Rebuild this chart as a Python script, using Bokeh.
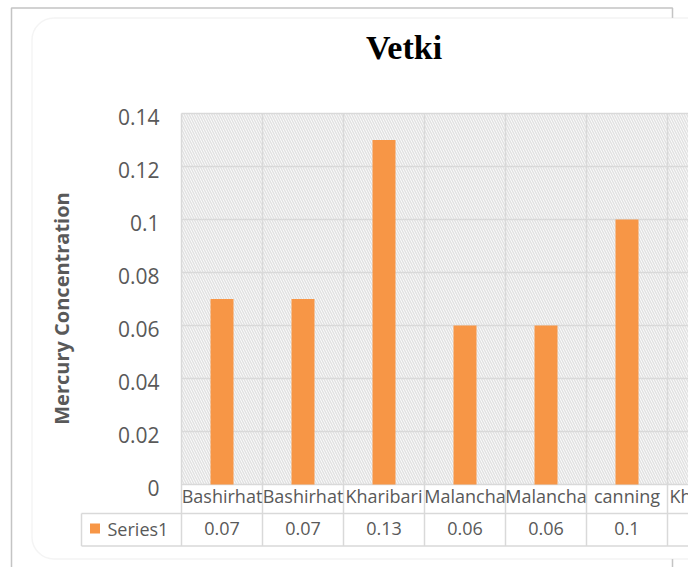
import math
from bokeh.plotting import figure
from bokeh.models import Range1d, BoxAnnotation, Label, ColumnDataSource
from bokeh.core.properties import value
from bokeh.embed import file_html
from bokeh.resources import INLINE

# ---------------- data ----------------
title_text = "Vetki"
y_axis_title = "Mercury Concentration"
series_name = "Series1"
categories = ["Bashirhat", "Bashirhat", "Kharibari", "Malancha", "Malancha", "canning", "Kharibari"]
values = [0.07, 0.07, 0.13, 0.06, 0.06, 0.1]
value_labels = ["0.07", "0.07", "0.13", "0.06", "0.06", "0.1"]
y_ticks = [0, 0.02, 0.04, 0.06, 0.08, 0.1, 0.12, 0.14]
y_tick_labels = ["0", "0.02", "0.04", "0.06", "0.08", "0.1", "0.12", "0.14"]

# ---------------- layout (pixel geometry of the chart picture) ----------------
W, H = 688, 567
PLOT_LEFT, PLOT_BOTTOM, PLOT_TOP = 181, 484, 113   # plot-area edges in px
CAT_PX = 81                                         # px per category
Y_MAX = y_ticks[-1]

BAR = "#F79646"
GRID = "#d9d9d9"
TXT = "#595959"
FONT = "Open Sans"


def X(px):
    """pixel column -> data x (category units)"""
    return (px - PLOT_LEFT) / CAT_PX


def Y(py):
    """pixel row -> data y"""
    return (PLOT_BOTTOM - py) * Y_MAX / (PLOT_BOTTOM - PLOT_TOP)


p = figure(width=W, height=H, x_range=Range1d(X(0), X(W)), y_range=Range1d(Y(H), Y(0)),
           output_backend="svg", toolbar_location=None,
           x_axis_location=None, y_axis_location=None,
           min_border=0, min_border_left=0, min_border_right=0,
           min_border_top=0, min_border_bottom=0)
p.outline_line_color = None
p.border_fill_color = "white"
p.background_fill_color = "white"
p.xgrid.visible = False
p.ygrid.visible = False

# outer black frame and rounded chart area
p.add_layout(BoxAnnotation(left=X(11), right=X(672), top=Y(7.5), bottom=Y(900),
                           fill_alpha=0, line_color="#3a3a3a", line_width=1.5, level="image"))
p.add_layout(BoxAnnotation(left=X(31.5), right=X(1000), top=Y(17.5), bottom=Y(558.5),
                           fill_color="white", fill_alpha=1, line_color=GRID, line_width=1.5,
                           border_radius=22, level="image"))
# hatched plot area
p.add_layout(BoxAnnotation(left=0, right=X(1000), bottom=0, top=Y_MAX,
                           fill_alpha=0, line_alpha=0, hatch_pattern="\\",
                           hatch_color="#e2e2e2", hatch_scale=5, hatch_weight=1.6,
                           level="underlay"))

n_cat = len(categories)
centers = [i + 0.5 for i in range(n_cat)]
right_end = X(1000)

# horizontal grid lines of the plot area
p.segment(x0=[0] * len(y_ticks), x1=[right_end] * len(y_ticks), y0=y_ticks, y1=y_ticks,
          line_color=GRID, line_width=1.5)
# vertical category separators (through the plot area and the data table)
bounds = list(range(n_cat + 1))
p.segment(x0=bounds, x1=bounds, y0=[Y(545.5)] * len(bounds), y1=[Y_MAX] * len(bounds),
          line_color=GRID, line_width=1.5)
# data table rules
p.segment(x0=[X(81), X(81)], x1=[right_end, right_end], y0=[Y(513), Y(545.5)],
          y1=[Y(513), Y(545.5)], line_color=GRID, line_width=1.5)
p.segment(x0=[X(81)], x1=[X(81)], y0=[Y(513)], y1=[Y(545.5)], line_color=GRID, line_width=1.5)

# bars
src = ColumnDataSource(dict(x=centers[:len(values)], top=values))
p.vbar(x="x", top="top", bottom=0, width=23 / CAT_PX, source=src, fill_color=BAR, line_color=None)

# y tick labels
tick_src = ColumnDataSource(dict(x=[X(159)] * len(y_ticks), y=y_ticks, text=y_tick_labels))
p.text(x="x", y="y", text="text", source=tick_src, text_align="right", text_baseline="middle",
       y_offset=3, text_font=value(FONT), text_font_size=value("21px"), text_color=TXT)

# data table texts
cat_src = ColumnDataSource(dict(x=centers, y=[Y(495.5)] * n_cat, text=categories))
p.text(x="x", y="y", text="text", source=cat_src, text_align="center",
       text_baseline="middle", text_font=value(FONT), text_font_size=value("18px"),
       text_color=TXT)
val_src = ColumnDataSource(dict(x=centers[:len(values)], y=[Y(528)] * len(values), text=value_labels))
p.text(x="x", y="y", text="text", source=val_src, text_align="center",
       text_baseline="middle", text_font=value(FONT), text_font_size=value("18px"),
       text_color=TXT)
p.add_layout(BoxAnnotation(left=X(89.5), right=X(99.5), top=Y(523), bottom=Y(533),
                           fill_color=BAR, fill_alpha=1, line_alpha=0))
p.add_layout(Label(x=X(107), y=Y(528.5), text=series_name, text_align="left",
                   text_baseline="middle", text_font=FONT, text_font_size="18px",
                   text_color=TXT))

# titles
p.add_layout(Label(x=X(403.5), y=Y(46.5), text=title_text, text_align="center",
                   text_baseline="middle", text_font="Liberation Serif",
                   text_font_style="bold", text_font_size="34px", text_color="black"))
p.add_layout(Label(x=X(61), y=Y(308), text=y_axis_title, angle=math.pi / 2,
                   text_align="center", text_baseline="middle", text_font=FONT,
                   text_font_style="bold", text_font_size="20px", text_color=TXT))

open("out.html", "w").write(file_html(p, INLINE))
